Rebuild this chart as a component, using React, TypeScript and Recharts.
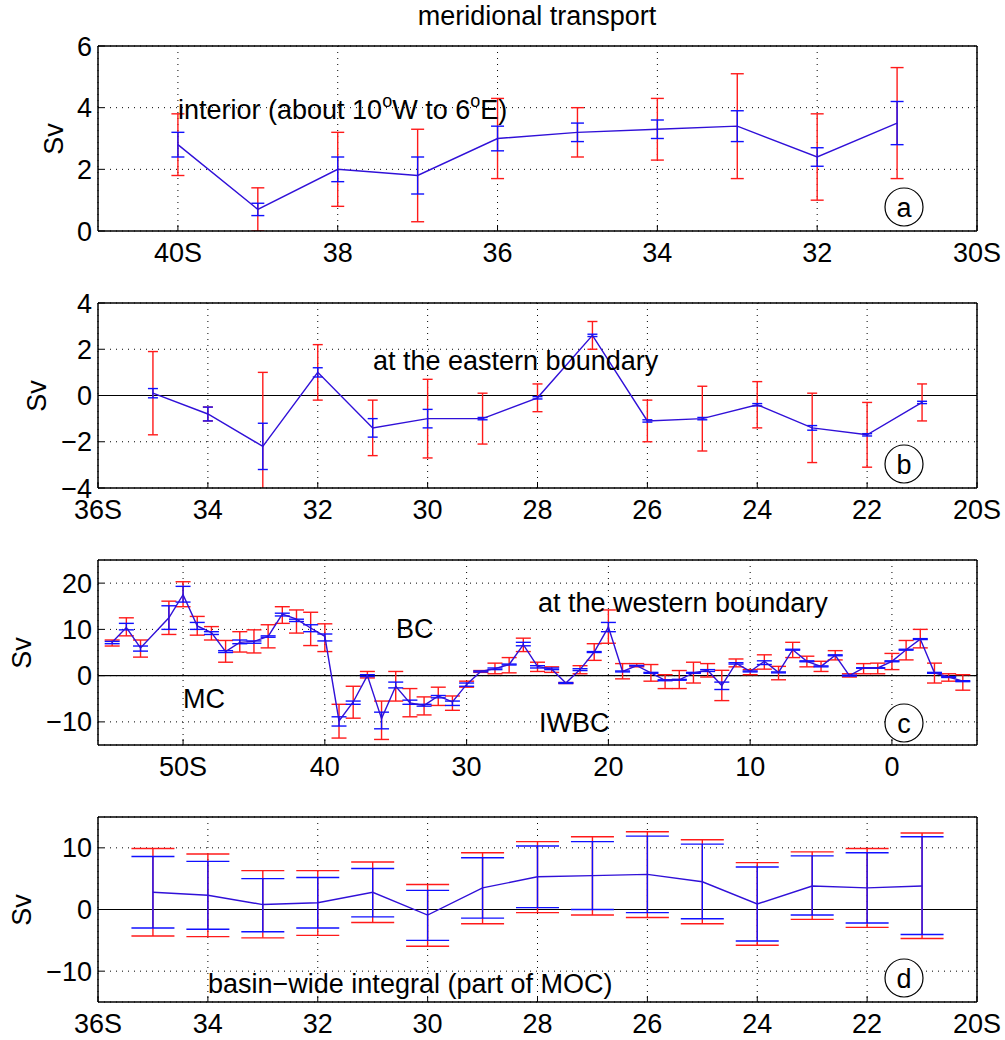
import React from 'react';
import { ComposedChart, Line, XAxis, YAxis, CartesianGrid, ErrorBar, ReferenceLine } from 'recharts';

const FONT = '"Liberation Sans", Arial, Helvetica, sans-serif';
const LINE_COLOR = '#3010d8';
const FS = 27;

// (a) interior, 40S..31S
const latA = [-40, -39, -38, -37, -36, -35, -34, -33, -32, -31];
const meanA = [2.8, 0.7, 2.0, 1.8, 3.0, 3.2, 3.3, 3.4, 2.4, 3.5];
const blueLoA = [2.4, 0.5, 1.6, 1.2, 2.6, 2.9, 3.0, 2.9, 2.1, 2.8];
const blueHiA = [3.2, 0.9, 2.4, 2.4, 3.4, 3.5, 3.6, 3.9, 2.7, 4.2];
const redLoA = [1.8, 0.0, 0.8, 0.3, 1.7, 2.4, 2.3, 1.7, 1.0, 1.7];
const redHiA = [3.8, 1.4, 3.2, 3.3, 4.3, 4.0, 4.3, 5.1, 3.8, 5.3];
const xTicksA = [-40, -38, -36, -34, -32, -30];
const xLabelsA = ['40S', '38', '36', '34', '32', '30S'];
const yTicksA = [0, 2, 4, 6];

// (b) eastern boundary, 35S..21S
const latB = [-35, -34, -33, -32, -31, -30, -29, -28, -27, -26, -25, -24, -23, -22, -21];
const meanB = [0.1, -0.8, -2.2, 1.0, -1.4, -1.0, -1.0, -0.1, 2.6, -1.1, -1.0, -0.4, -1.4, -1.7, -0.3];
const blueLoB = [-0.1, -1.1, -3.2, 0.8, -1.8, -1.4, -1.05, -0.15, 2.55, -1.15, -1.05, -0.45, -1.5, -1.75, -0.35];
const blueHiB = [0.3, -0.5, -1.2, 1.2, -1.0, -0.6, -0.95, -0.05, 2.65, -1.05, -0.95, -0.35, -1.3, -1.65, -0.25];
const redLoB = [-1.7, -1.1, -5.4, -0.2, -2.6, -2.7, -2.1, -0.7, 2.0, -2.0, -2.4, -1.4, -2.9, -3.1, -1.1];
const redHiB = [1.9, -0.5, 1.0, 2.2, -0.2, 0.7, 0.1, 0.5, 3.2, -0.2, 0.4, 0.6, 0.1, -0.3, 0.5];
const xTicksBD = [-36, -34, -32, -30, -28, -26, -24, -22, -20];
const xLabelsBD = ['36S', '34', '32', '30', '28', '26', '24', '22', '20S'];
const yTicksB = [-4, -2, 0, 2, 4];

// (c) western boundary, 55S..5N (no value at 52S)
const latC = [-55, -54, -53, -51, -50, -49, -48, -47, -46, -45, -44, -43, -42, -41, -40,
  -39, -38, -37, -36, -35, -34, -33, -32, -31, -30, -29, -28, -27, -26, -25, -24, -23, -22, -21, -20,
  -19, -18, -17, -16, -15, -14, -13, -12, -11, -10, -9, -8, -7, -6, -5, -4, -3, -2, -1, 0,
  1, 2, 3, 4, 5];
const meanC = [7.2, 10.4, 6.0, 12.5, 17.5, 10.75, 9.3, 5.2, 7.2, 7.4, 8.5, 13.3, 12.2, 10.3, 8.5,
  -9.8, -5.7, 0.0, -9.3, -2.3, -5.9, -6.45, -4.4, -5.7, -1.9, 0.9, 1.5, 2.4, 6.7, 2.0, 1.4, -1.6, 1.3, 5.1, 10.5,
  0.9, 2.15, 0.6, -1.0, -0.9, 0.6, 1.15, -2.15, 2.7, 0.9, 3.1, 0.7, 5.6, 3.1, 2.0, 4.4, 0.0, 1.65, 1.65, 3.1,
  5.6, 7.9, 0.6, -0.3, -1.2];
const blueLoC = [6.9, 9.9, 5.3, 10.0, 15.9, 10.0, 8.9, 5.0, 6.9, 7.0, 8.3, 12.9, 11.7, 9.5, 7.5,
  -10.9, -6.2, -0.2, -11.5, -2.65, -6.2, -6.6, -4.8, -6.45, -2.3, 0.8, 1.3, 2.3, 6.45, 1.65, 1.3, -1.7, 1.1, 5.0, 9.5,
  0.8, 2.1, 0.5, -1.1, -1.0, 0.5, 0.9, -3.0, 2.5, 0.8, 2.4, 0.6, 5.5, 3.0, 1.9, 4.3, -0.1, 1.6, 1.6, 3.0,
  5.5, 7.8, 0.5, -0.4, -1.3];
const blueHiC = [7.4, 11.3, 6.4, 15.1, 19.3, 11.5, 9.5, 5.4, 7.7, 7.5, 8.6, 13.5, 12.2, 11.0, 9.0,
  -8.9, -5.5, 0.2, -7.9, -1.4, -5.3, -6.2, -4.3, -5.5, -1.6, 1.0, 1.65, 2.5, 7.2, 2.15, 1.65, -1.5, 1.5, 5.2, 11.5,
  1.0, 2.2, 0.7, -0.9, -0.8, 0.7, 1.3, -1.4, 2.8, 1.0, 3.2, 0.8, 5.7, 3.2, 2.1, 4.5, 0.1, 1.7, 1.7, 3.2,
  5.7, 8.0, 0.7, -0.2, -1.1];
const redLoC = [6.4, 8.6, 4.0, 8.9, 14.9, 8.75, 7.7, 2.9, 5.1, 4.9, 6.0, 11.3, 9.2, 6.5, 5.2,
  -13.5, -9.2, -0.5, -13.8, -5.5, -8.9, -8.5, -6.45, -7.5, -2.5, 0.7, 0.4, 0.6, 5.2, 0.9, 0.7, -1.7, 0.4, 3.3, 7.0,
  -0.7, 1.9, -1.2, -2.8, -2.8, -1.6, -0.3, -5.4, 1.9, 0.2, 1.4, -0.9, 3.9, 1.9, 0.9, 3.4, -0.3, 0.4, 0.4, 1.3,
  3.4, 6.0, -1.6, -1.2, -3.15];
const redHiC = [7.7, 12.5, 7.7, 16.1, 20.3, 12.8, 10.6, 7.6, 9.5, 9.9, 11.0, 14.9, 14.2, 13.7, 11.2,
  -6.2, -2.3, 0.9, -5.5, 0.9, -2.8, -4.6, -2.5, -4.4, -1.2, 1.1, 2.7, 3.9, 8.1, 2.9, 1.9, -1.5, 2.15, 6.9, 14.2,
  2.6, 2.6, 2.4, 0.2, 1.1, 2.9, 2.6, 1.15, 3.6, 1.3, 4.5, 2.0, 7.2, 4.2, 3.1, 5.4, 0.4, 2.6, 2.7, 4.8,
  7.6, 10.0, 2.7, 0.4, 0.2];
const xTicksC = [-50, -40, -30, -20, -10, 0];
const xLabelsC = ['50S', '40', '30', '20', '10', '0'];
const yTicksC = [-10, 0, 10, 20];

// (d) basin-wide integral, 35S..21S
const latD = [-35, -34, -33, -32, -31, -30, -29, -28, -27, -26, -25, -24, -23, -22, -21];
const meanD = [2.8, 2.3, 0.8, 1.1, 2.8, -0.9, 3.5, 5.3, 5.5, 5.7, 4.5, 0.9, 3.8, 3.5, 3.8];
const blueLoD = [-3.0, -3.2, -3.6, -3.0, -1.2, -5.0, -1.4, 0.3, 0.0, -0.5, -1.5, -5.1, -0.9, -2.2, -4.05];
const blueHiD = [8.6, 7.8, 5.0, 5.2, 6.65, 3.1, 8.4, 10.3, 11.0, 11.9, 10.6, 6.9, 8.7, 9.2, 11.8];
const redLoD = [-4.3, -4.4, -4.6, -4.2, -2.1, -5.95, -2.3, -0.5, -0.9, -1.3, -2.3, -5.8, -1.6, -2.9, -4.7];
const redHiD = [9.9, 9.0, 6.3, 6.3, 7.7, 4.05, 9.2, 11.0, 11.8, 12.6, 11.3, 7.6, 9.35, 9.9, 12.4];
const yTicksD = [-10, 0, 10];

const buildRows = (lat: number[], mean: number[], bLo: number[], bHi: number[], rLo: number[], rHi: number[]) =>
  lat.map((x, i) => ({
    x,
    mean: mean[i],
    blue: [mean[i] - bLo[i], bHi[i] - mean[i]],
    red: [mean[i] - rLo[i], rHi[i] - mean[i]],
  }));

const fmtY = (v: number) => (v < 0 ? '\u2212' + Math.abs(v) : String(v));

const tickStyle = { fill: '#000', fontSize: FS, fontFamily: FONT };
const frame = { stroke: '#000', strokeWidth: 1.5 };

// chart box geometry (all four panels share it)
const W = 1005;
const H = 255;
const M = { top: 19, right: 27, bottom: 0, left: 0 };
const Y_W = 98;
const X_H = 50;
const plotX = M.left + Y_W;
const plotY = M.top + 1;
const plotW = W - M.left - M.right - Y_W - 1;
const plotH = H - M.top - 1 - X_H - M.bottom;

interface PanelProps {
  id: string;
  top: number;
  rows: any[];
  xDomain: [number, number];
  xTicks: number[];
  xLabels: string[];
  yDomain: [number, number];
  yTicks: number[];
  cap: number;
  zero?: boolean;
}

const Panel: React.FC<PanelProps> = ({ id, top, rows, xDomain, xTicks, xLabels, yDomain, yTicks, cap, zero }) => {
  const clip = `url(#eb-clip-${id})`;
  return (
    <div style={{ position: 'absolute', left: 0, top }}>
      <svg width={0} height={0} style={{ position: 'absolute' }}>
        <defs>
          <clipPath id={`eb-clip-${id}`}>
            <rect x={plotX} y={plotY} width={plotW} height={plotH} />
          </clipPath>
        </defs>
      </svg>
      <ComposedChart width={W} height={H} data={rows} margin={M}>
        <CartesianGrid stroke="#000" strokeDasharray="1 5" strokeWidth={1} />
        <XAxis
          dataKey="x" type="number" domain={xDomain} ticks={xTicks} interval={0} allowDataOverflow
          tickFormatter={(_v: number, i: number) => xLabels[i]}
          height={X_H} tickSize={-6} tickMargin={18}
          axisLine={frame} tickLine={{ stroke: '#000' }} tick={tickStyle}
        />
        <XAxis
          xAxisId="top" orientation="top" type="number" domain={xDomain} ticks={xTicks} interval={0} allowDataOverflow
          height={1} tickSize={-6} tick={false} axisLine={frame} tickLine={{ stroke: '#000' }}
        />
        <YAxis
          type="number" domain={yDomain} ticks={yTicks} interval={0} allowDataOverflow
          tickFormatter={fmtY} width={Y_W} tickSize={-6} tickMargin={12}
          axisLine={frame} tickLine={{ stroke: '#000' }} tick={tickStyle}
        />
        <YAxis
          yAxisId="right" orientation="right" type="number" domain={yDomain} ticks={yTicks} interval={0} allowDataOverflow
          width={1} tickSize={-6} tick={false} axisLine={frame} tickLine={{ stroke: '#000' }}
        />
        {zero && <ReferenceLine y={0} stroke="#000" strokeWidth={1.2} />}
        <Line dataKey="mean" stroke="none" dot={false} activeDot={false} isAnimationActive={false}>
          <ErrorBar dataKey="red" direction="y" width={cap} stroke="#ff1a1a" strokeWidth={1.4}
            clipPath={clip} isAnimationActive={false} />
        </Line>
        <Line dataKey="mean" stroke="none" dot={false} activeDot={false} isAnimationActive={false}>
          <ErrorBar dataKey="blue" direction="y" width={cap} stroke="#1010ff" strokeWidth={1.4}
            clipPath={clip} isAnimationActive={false} />
        </Line>
        <Line type="linear" dataKey="mean" stroke={LINE_COLOR} strokeWidth={1.4} dot={false} activeDot={false} isAnimationActive={false} />
      </ComposedChart>
    </div>
  );
};

const Badge = ({ x, y, s }: { x: number; y: number; s: string }) => (
  <g>
    <circle cx={x} cy={y} r={19} fill="#fff" stroke="#000" strokeWidth={1.2} />
    <text x={x} y={y} dy="0.36em" textAnchor="middle">{s}</text>
  </g>
);

const SvLabel = ({ x, y }: { x: number; y: number }) => (
  <text transform={`translate(${x},${y}) rotate(-90)`} textAnchor="middle" dy="0.36em">Sv</text>
);

export default function App() {
  const rowsA = buildRows(latA, meanA, blueLoA, blueHiA, redLoA, redHiA);
  const rowsB = buildRows(latB, meanB, blueLoB, blueHiB, redLoB, redHiB);
  const rowsC = buildRows(latC, meanC, blueLoC, blueHiC, redLoC, redHiC);
  const rowsD = buildRows(latD, meanD, blueLoD, blueHiD, redLoD, redHiD);

  return (
    <div style={{ position: 'absolute', left: 0, top: 0, width: 1005, height: 1040, background: '#fff' }}>
      <Panel id="a" top={26} rows={rowsA} xDomain={[-41, -30]} xTicks={xTicksA} xLabels={xLabelsA} yDomain={[0, 6]} yTicks={yTicksA} cap={6.5} />
      <Panel id="b" top={283} rows={rowsB} xDomain={[-36, -20]} xTicks={xTicksBD} xLabels={xLabelsBD} yDomain={[-4, 4]} yTicks={yTicksB} cap={5} zero />
      <Panel id="c" top={540} rows={rowsC} xDomain={[-56, 6]} xTicks={xTicksC} xLabels={xLabelsC} yDomain={[-15, 25]} yTicks={yTicksC} cap={7.5} zero />
      <Panel id="d" top={797} rows={rowsD} xDomain={[-36, -20]} xTicks={xTicksBD} xLabels={xLabelsBD} yDomain={[-15, 15]} yTicks={yTicksD} cap={21.5} zero />

      <svg width={1005} height={1040} style={{ position: 'absolute', left: 0, top: 0, pointerEvents: 'none' }}
        fontFamily={FONT} fontSize={FS} fill="#000">
        <text x={537} y={25} textAnchor="middle">meridional transport</text>

        <SvLabel x={53} y={139} />
        <SvLabel x={36} y={396} />
        <SvLabel x={21} y={653} />
        <SvLabel x={21} y={910} />

        <text x={178} y={119}>
          interior (about 10<tspan dy={-12} fontSize={18}>o</tspan>
          <tspan dy={12}>W to 6</tspan><tspan dy={-12} fontSize={18}>o</tspan>
          <tspan dy={12}>E)</tspan>
        </text>
        <text x={373} y={370}>at the eastern boundary</text>
        <text x={538} y={612}>at the western boundary</text>
        <text x={396} y={638}>BC</text>
        <text x={183} y={708}>MC</text>
        <text x={539} y={732}>IWBC</text>
        <text x={208} y={993}>basin{'\u2212'}wide integral (part of MOC)</text>

        <Badge x={904} y={207} s="a" />
        <Badge x={904} y={464} s="b" />
        <Badge x={904} y={723} s="c" />
        <Badge x={904} y={978} s="d" />
      </svg>
    </div>
  );
}
